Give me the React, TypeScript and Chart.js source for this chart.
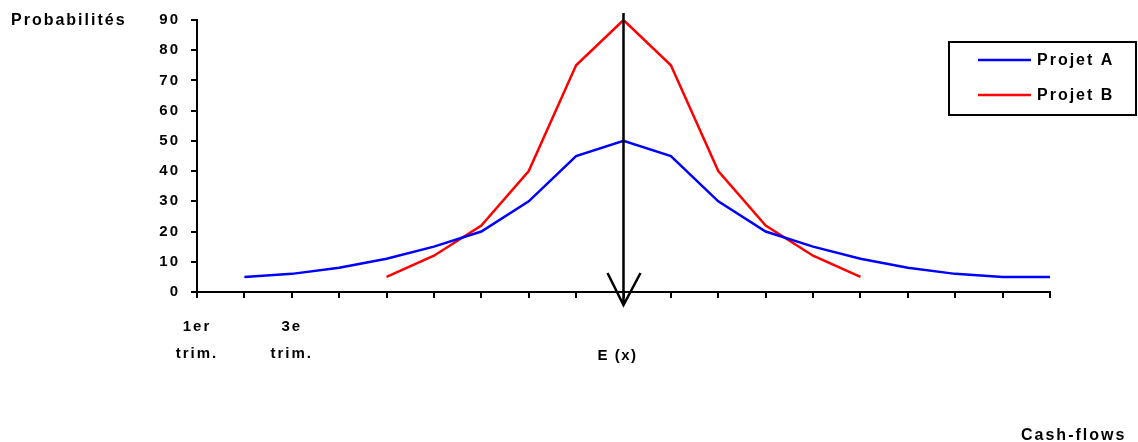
import React, { useEffect, useRef } from "react";
import { Chart, registerables } from "chart.js";

Chart.register(...registerables);

const categories: (string | string[])[] = [
  ["1er", "trim."], "", ["3e", "trim."], "", "", "", "", "", "", "", "", "", "", "", "", "", "", "", "",
];
const projetA: (number | null)[] = [null, 5, 6, 8, 11, 15, 20, 30, 45, 50, 45, 30, 20, 15, 11, 8, 6, 5, 5];
const projetB: (number | null)[] = [null, null, null, null, 5, 12, 22, 40, 75, 90, 75, 40, 22, 12, 5, null, null, null, null];
const yTicks = { min: 0, max: 90, step: 10 };
const expectedIndex = 9;
const seriesNames = ["Projet A", "Projet B"];
const seriesColors = ["#0000FF", "#FF0000"];

const FONT = '"Liberation Sans", Arial, sans-serif';

export default function App() {
  const ref = useRef<HTMLCanvasElement | null>(null);
  useEffect(() => {
    const canvas = ref.current!;
    const overlay = {
      id: "overlay",
      beforeDraw(chart: any) {
        (chart.ctx as any).letterSpacing = "2px";
      },
      afterDatasetsDraw(chart: any) {
        const ctx = chart.ctx as CanvasRenderingContext2D;
        const xs = chart.scales.x;
        const ys = chart.scales.y;
        const area = chart.chartArea;
        const x = xs.getPixelForValue(expectedIndex);
        const y0 = ys.getPixelForValue(0);
        ctx.save();
        ctx.strokeStyle = "#000";
        ctx.lineWidth = 2.5;
        ctx.beginPath();
        ctx.moveTo(x, area.top - 7);
        ctx.lineTo(x, y0 + 13);
        ctx.moveTo(x - 16, y0 - 19);
        ctx.lineTo(x, y0 + 13);
        ctx.lineTo(x + 17, y0 - 19);
        ctx.stroke();
        ctx.restore();
      },
      afterDraw(chart: any) {
        const ctx = chart.ctx as CanvasRenderingContext2D;
        const xs = chart.scales.x;
        ctx.save();
        (ctx as any).letterSpacing = "2px";
        ctx.fillStyle = "#000";
        ctx.font = `bold 16px ${FONT}`;
        ctx.textBaseline = "middle";
        ctx.textAlign = "left";
        ctx.fillText("Probabilités", 11, 21);
        ctx.font = `bold 15px ${FONT}`;
        (ctx as any).letterSpacing = "1.5px";
        ctx.textAlign = "center";
        ctx.fillText("E (x)", xs.getPixelForValue(expectedIndex) - 6, 356);
        ctx.font = `bold 16px ${FONT}`;
        (ctx as any).letterSpacing = "2px";
        ctx.textAlign = "left";
        ctx.fillText("Cash-flows", 1021, 436);
        // legend
        ctx.lineWidth = 2;
        ctx.strokeStyle = "#000";
        ctx.strokeRect(949, 42, 187, 73);
        const rows = [60, 95];
        rows.forEach((yy, i) => {
          ctx.strokeStyle = seriesColors[i];
          ctx.lineWidth = 2.5;
          ctx.beginPath();
          ctx.moveTo(978, yy);
          ctx.lineTo(1031, yy);
          ctx.stroke();
          ctx.textAlign = "left";
          ctx.fillText(seriesNames[i], 1037, yy + 1);
        });
        ctx.restore();
      },
    };
    const chart = new Chart(canvas, {
      type: "line",
      data: {
        labels: categories as any,
        datasets: [
          { label: seriesNames[0], data: projetA, borderColor: seriesColors[0], borderWidth: 2.5, pointRadius: 0, tension: 0, fill: false },
          { label: seriesNames[1], data: projetB, borderColor: seriesColors[1], borderWidth: 2.5, pointRadius: 0, tension: 0, fill: false },
        ],
      },
      options: {
        animation: false,
        responsive: false,
        maintainAspectRatio: false,
        layout: { padding: { left: 0, top: 18, right: 88, bottom: 0 } },
        plugins: { legend: { display: false }, tooltip: { enabled: false } },
        scales: {
          x: {
            type: "category",
            offset: false,
            grid: { drawOnChartArea: false, drawTicks: true, tickLength: 6, color: "#000", lineWidth: 2 },
            border: { color: "#000", width: 2 },
            ticks: {
              autoSkip: false,
              maxRotation: 0,
              minRotation: 0,
              color: "#000",
              padding: 15,
              font: { family: FONT, size: 15, weight: "bold", lineHeight: 1.8 },
            },
            afterFit(scale: any) {
              scale.height = 150;
            },
          },
          y: {
            min: yTicks.min,
            max: yTicks.max,
            grid: { drawOnChartArea: false, drawTicks: true, tickLength: 6, color: "#000", lineWidth: 2 },
            border: { color: "#000", width: 2 },
            ticks: {
              stepSize: yTicks.step,
              color: "#000",
              padding: 11,
              font: { family: FONT, size: 15, weight: "bold" },
            },
            afterFit(scale: any) {
              scale.width = 197;
            },
          },
        },
      },
      plugins: [overlay],
    });
    return () => chart.destroy();
  }, []);
  return (
    <div style={{ position: "absolute", left: 0, top: 0, width: 1138, height: 442, background: "#fff" }}>
      <canvas ref={ref} width={1138} height={442} style={{ width: 1138, height: 442 }} />
    </div>
  );
}
